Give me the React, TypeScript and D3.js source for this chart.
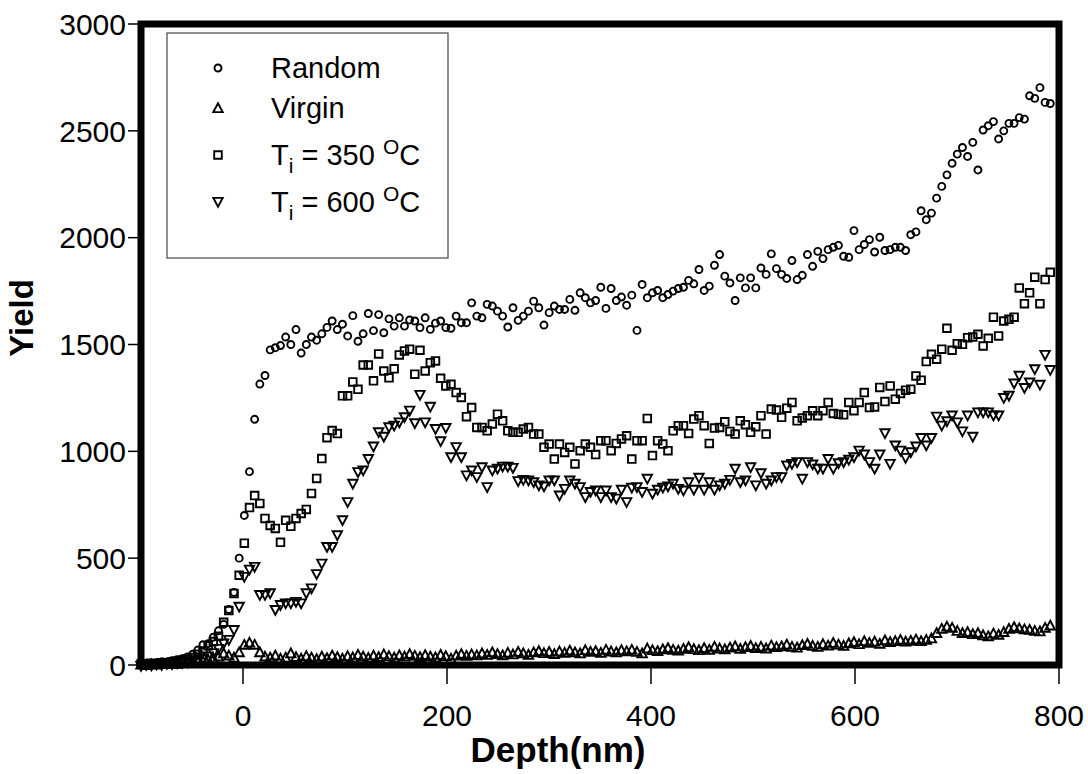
import React from "react";
import * as d3 from "d3";

// Depth channels: regular grid starting at -100 nm
const DEPTH_START = -100;
const DEPTH_STEP = 5.065;

const xTicks = [0, 200, 400, 600, 800];
const yTicks = [0, 500, 1000, 1500, 2000, 2500, 3000];

const seriesNames = ["Random", "Virgin", "T350", "T600"];

const randomYield = [
  5, 8, 3, 10, 14, 12, 20, 25, 30, 38, 50, 70, 95, 100, 130, 160, 190, 260, 340,
  500, 700, 905, 1150, 1315, 1355, 1475, 1485, 1495, 1535, 1500,
  1570, 1460, 1500, 1535, 1520, 1550, 1580, 1610, 1570, 1595,
  1540, 1635, 1515, 1550, 1645, 1565, 1640, 1555, 1620, 1586,
  1625, 1586, 1615, 1610, 1579, 1625, 1571, 1600, 1610, 1579,
  1576, 1633, 1602, 1602, 1695, 1633, 1625, 1688, 1680, 1656,
  1633, 1582, 1672, 1613, 1633, 1656, 1703, 1672, 1591, 1649,
  1680, 1664, 1664, 1711, 1660, 1742, 1719, 1695, 1706, 1768,
  1669, 1762, 1706, 1722, 1684, 1731, 1566, 1781, 1719, 1742,
  1753, 1719, 1734, 1750, 1762, 1768, 1800, 1784, 1851, 1753,
  1773, 1871, 1921, 1820, 1788, 1706, 1812, 1765, 1812, 1765,
  1858, 1828, 1924, 1855, 1828, 1809, 1893, 1804, 1824, 1921,
  1866, 1936, 1902, 1944, 1955, 1964, 1913, 1908, 2033, 1944,
  1968, 1991, 1933, 2002, 1940, 1944, 1955, 1955, 1940, 2014,
  2027, 2126, 2084, 2115, 2185, 2240, 2294, 2348, 2391, 2422,
  2380, 2446, 2317, 2504, 2524, 2543, 2462, 2500, 2535, 2535,
  2562, 2555, 2664, 2652, 2702, 2633, 2628,
];

const virginYield = [
  2, 0, 4, 3, 6, 5, 8, 6, 10, 12, 10, 15, 18,
  25, 30, 40, 55, 45, 35, 60, 95, 105, 95, 60, 40, 35, 45, 30, 35, 55,
  38, 30, 42, 35, 28, 40, 33, 45, 38, 30,
  42, 36, 48, 40, 34, 45, 38, 50, 42, 35,
  46, 40, 52, 44, 38, 47, 40, 36, 48, 42,
  30, 45, 52, 44, 50, 46, 55, 48, 60, 52,
  46, 58, 50, 62, 55, 48, 60, 66, 56, 62,
  52, 64, 58, 68, 60, 55, 70, 62, 66, 58,
  72, 64, 60, 70, 65, 72, 62, 55, 78, 70,
  66, 74, 80, 72, 68, 76, 84, 75, 70, 80,
  72, 86, 78, 74, 82, 88, 76, 84, 90, 80,
  86, 78, 92, 84, 88, 96, 86, 82, 94, 100,
  90, 86, 98, 92, 104, 96, 90, 102, 108, 98,
  112, 104, 110, 100, 116, 108, 112, 118, 110, 114,
  120, 112, 118, 125, 150, 170, 180, 175, 160, 150,
  155, 145, 150, 140, 135, 148, 142, 155, 170, 178,
  172, 168, 165, 160, 158, 175, 185,
];

const t350Yield = [
  5, 3, 8, 6, 10, 12, 15, 18, 22, 28, 35, 50, 65, 90, 110, 135, 200, 255, 335, 420,
  570, 737, 793, 756, 686, 653, 639, 574, 677, 649,
  686, 709, 728, 803, 873, 966, 1064, 1097, 1083, 1260,
  1260, 1325, 1290, 1404, 1404, 1330, 1456, 1376, 1344, 1386,
  1451, 1470, 1478, 1361, 1473, 1376, 1415, 1423, 1342, 1306,
  1314, 1275, 1252, 1162, 1205, 1112, 1112, 1096, 1128, 1174,
  1143, 1096, 1089, 1089, 1104, 1112, 1081, 1081, 1019, 1034,
  964, 1034, 995, 1019, 941, 1003, 1034, 1019, 985, 1050,
  1050, 1003, 1037, 1058, 1073, 964, 1050, 1050, 1154, 980,
  1050, 1034, 1003, 1096, 1120, 1120, 1084, 1151, 1167, 1120,
  1037, 1109, 1112, 1138, 1093, 1081, 1143, 1125, 1089, 1115,
  1167, 1081, 1198, 1193, 1159, 1202, 1229, 1143, 1156, 1167,
  1190, 1167, 1190, 1229, 1177, 1174, 1171, 1229, 1190, 1229,
  1275, 1205, 1208, 1299, 1233, 1306, 1244, 1271, 1286, 1291,
  1353, 1333, 1420, 1454, 1431, 1478, 1576, 1473, 1504, 1501,
  1532, 1535, 1548, 1493, 1529, 1628, 1540, 1610, 1618, 1628,
  1765, 1691, 1742, 1815, 1691, 1804, 1838,
];

const t600Yield = [
  -5, 0, -3, 2, 0, 5, 3, 8, 10, 12, 15, 22, 30, 40, 55, 75, 100, 117, 163, 272,
  412, 446, 459, 327, 327, 335, 257, 280, 288, 288,
  295, 288, 335, 358, 425, 474, 552, 552, 607, 677,
  762, 848, 902, 910, 964, 1022, 1089, 1068, 1112, 1120,
  1135, 1159, 1190, 1131, 1264, 1135, 1208, 1104, 1047, 1109,
  972, 1019, 972, 887, 910, 879, 925, 832, 910, 918,
  928, 928, 922, 860, 866, 863, 855, 840, 835, 863,
  863, 793, 824, 863, 848, 832, 785, 809, 816, 785,
  816, 785, 778, 820, 762, 829, 832, 809, 871, 801,
  820, 829, 835, 848, 824, 816, 855, 820, 876, 820,
  855, 820, 840, 848, 866, 918, 855, 863, 925, 840,
  897, 848, 863, 879, 879, 933, 941, 949, 871, 949,
  938, 918, 918, 964, 918, 944, 949, 960, 972, 1003,
  985, 949, 918, 985, 1084, 941, 1027, 1003, 969, 995,
  1022, 1062, 1027, 1062, 1162, 1120, 1140, 1167, 1135, 1093,
  1167, 1068, 1182, 1182, 1182, 1167, 1167, 1249, 1260, 1317,
  1353, 1296, 1322, 1384, 1311, 1451, 1380,
];

const FONT = "'Liberation Sans', Arial, sans-serif";

type Shape = "circle" | "triUp" | "square" | "triDown";

function markerPath(shape: Shape, cx: number, cy: number): string {
  if (shape === "circle") {
    const r = 3.5;
    return `M${cx - r},${cy}a${r},${r} 0 1,0 ${2 * r},0a${r},${r} 0 1,0 ${-2 * r},0Z`;
  }
  if (shape === "square") {
    const h = 3.8;
    return `M${cx - h},${cy - h}h${2 * h}v${2 * h}h${-2 * h}Z`;
  }
  const w = 4.7;
  const hh = 4.1;
  if (shape === "triUp") {
    return `M${cx},${cy - hh - 0.6}L${cx + w},${cy + hh}L${cx - w},${cy + hh}Z`;
  }
  return `M${cx},${cy + hh + 0.6}L${cx + w},${cy - hh}L${cx - w},${cy - hh}Z`;
}

export default function App() {
  const W = 1088;
  const H = 774;
  const x = d3.scaleLinear().domain([-100, 800]).range([141, 1059]);
  const y = d3.scaleLinear().domain([0, 3000]).range([665, 24]);

  const series: { name: string; values: number[]; shape: Shape }[] = [
    { name: seriesNames[0], values: randomYield, shape: "circle" },
    { name: seriesNames[1], values: virginYield, shape: "triUp" },
    { name: seriesNames[2], values: t350Yield, shape: "square" },
    { name: seriesNames[3], values: t600Yield, shape: "triDown" },
  ];

  const depth = (i: number) => DEPTH_START + i * DEPTH_STEP;

  const legendRows: { shape: Shape; cy: number }[] = [
    { shape: "circle", cy: 68 },
    { shape: "triUp", cy: 108 },
    { shape: "square", cy: 155 },
    { shape: "triDown", cy: 202 },
  ];

  return (
    <svg
      width={W}
      height={H}
      style={{ position: "absolute", left: 0, top: 0, display: "block", background: "#fff" }}
      fontFamily={FONT}
    >
      <rect x={0} y={0} width={W} height={H} fill="#fff" />
      {/* y ticks */}
      {yTicks.map((t) => (
        <g key={"y" + t}>
          <line x1={128} x2={141} y1={y(t)} y2={y(t)} stroke="#000" strokeWidth={1.5} />
          <text x={126} y={y(t)} dy="0.36em" textAnchor="end" fontSize={30} fill="#000">
            {t}
          </text>
        </g>
      ))}
      {/* x ticks */}
      {xTicks.map((t) => (
        <g key={"x" + t}>
          <line x1={x(t)} x2={x(t)} y1={665} y2={684} stroke="#000" strokeWidth={1.5} />
          <text x={x(t)} y={726} textAnchor="middle" fontSize={30} fill="#000">
            {t}
          </text>
        </g>
      ))}
      {/* frame */}
      <rect x={141} y={24} width={918} height={641} fill="none" stroke="#000" strokeWidth={7} />

      {/* legend */}
      <rect x={167} y={33} width={281} height={225} fill="#fff" stroke="#555" strokeWidth={1.3} />
      {legendRows.map((r, i) => (
        <path key={"lm" + i} d={markerPath(r.shape, 218, r.cy)} fill="none" stroke="#000" strokeWidth={1.9} />
      ))}
      <text x={271} y={78} fontSize={29} fill="#000">Random</text>
      <text x={271} y={118} fontSize={29} fill="#000">Virgin</text>
      <text x={271} y={165} fontSize={29} fill="#000">
        T<tspan fontSize={21} dy={8}>i</tspan>
        <tspan dy={-8}> = 350 </tspan>
        <tspan fontSize={21} dy={-11}>O</tspan>
        <tspan dy={11}>C</tspan>
      </text>
      <text x={271} y={212} fontSize={29} fill="#000">
        T<tspan fontSize={21} dy={8}>i</tspan>
        <tspan dy={-8}> = 600 </tspan>
        <tspan fontSize={21} dy={-11}>O</tspan>
        <tspan dy={11}>C</tspan>
      </text>

      {/* data */}
      {series.map((s) => (
        <g key={s.name}>
          {s.values.map((v, i) => (
            <path
              key={i}
              d={markerPath(s.shape, x(depth(i)), y(v))}
              fill="none"
              stroke="#000"
              strokeWidth={1.9}
            />
          ))}
        </g>
      ))}

      {/* axis titles */}
      <text x={558} y={762} textAnchor="middle" fontSize={35} fontWeight="bold" fill="#000">
        Depth(nm)
      </text>
      <text
        transform="translate(33,318) rotate(-90)"
        textAnchor="middle"
        fontSize={33}
        fontWeight="bold"
        fill="#000"
      >
        Yield
      </text>
    </svg>
  );
}
